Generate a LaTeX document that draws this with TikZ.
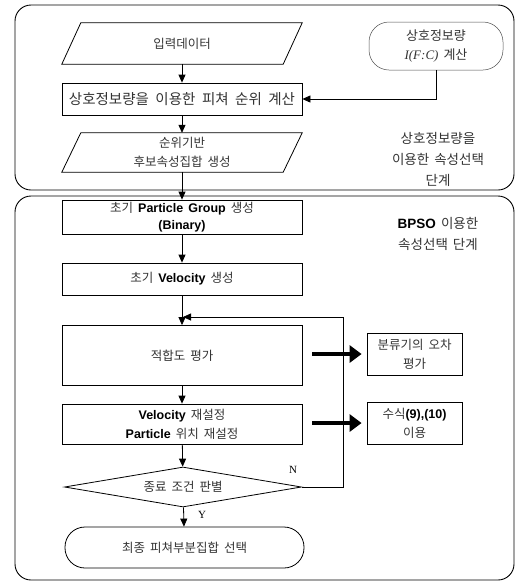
\documentclass[tikz,border=0pt]{standalone}
\usepackage{fontspec}
\setmainfont{Noto Sans CJK KR}
\newfontfamily\latf{Liberation Sans}
\newfontfamily\tmf{Liberation Serif}
\usetikzlibrary{arrows.meta,shapes.geometric,calc}
\newcommand{\bl}[1]{{\latf\bfseries\color{black}#1}}
\newcommand{\wsp}{\spaceskip=5pt plus 1pt\relax}
\newcommand{\wspwide}{\spaceskip=6.5pt plus 1pt\relax}
\begin{document}
\begin{tikzpicture}[x=1pt,y=-1pt,
  every node/.style={font=\fontsize{12.5}{18}\selectfont\wsp, text=black!80, align=center, inner sep=0pt},
  container/.style={draw, line width=0.9pt, rounded corners=16pt},
  procbox/.style={draw, line width=0.8pt, minimum width=240pt},
  sidebox/.style={draw, line width=0.8pt, minimum width=95pt, minimum height=42pt},
  termbox/.style={draw, line width=0.8pt, rounded corners=20pt},
  flow/.style={line width=0.8pt, -{Triangle[length=8pt,width=7pt]}},
  bigarrow/.style={line width=4pt, -{Triangle[length=12pt,width=17pt]}, shorten >=5pt},
  lbl/.style={font=\fontsize{11}{13}\selectfont\tmf, text=black}
]
\useasboundingbox (0,0) rectangle (518,582);
% containers
\node[container, minimum width=499pt, minimum height=185pt] (topc) at (264.5,97.5) {};
\node[container, minimum width=499pt, minimum height=384pt] (botc) at (264.5,388) {};

% upper stage
\node[minimum width=221pt, minimum height=41pt] (inp) at (182,43.5) {입력데이터};
\draw[line width=0.8pt] ($(inp.south west)+(-9.5,0)$) -- ($(inp.south east)+(-9.5,0)$) -- ($(inp.north east)+(9.5,0)$) -- ($(inp.north west)+(9.5,0)$) -- cycle;
\node[procbox, minimum height=32pt, font=\fontsize{14.5}{18}\selectfont\wspwide] (rank) at (182,99) {상호정보량을 이용한 피쳐 순위 계산};
\node[termbox, minimum width=134pt, minimum height=48pt, line width=0.5pt, draw=black!70, font=\fontsize{13}{19}\selectfont\wsp] (mi) at (436,46) {상호정보량\\{\tmf\itshape I(F:C)} 계산};
\node[minimum width=221pt, minimum height=39pt, font=\fontsize{12.5}{19}\selectfont\wsp] (cand) at (182,152.5) {순위기반\\후보속성집합 생성};
\draw[line width=0.8pt] ($(cand.south west)+(-9.5,0)$) -- ($(cand.south east)+(-9.5,0)$) -- ($(cand.north east)+(9.5,0)$) -- ($(cand.north west)+(9.5,0)$) -- cycle;
\node[font=\fontsize{13.5}{21}\selectfont\wsp] (stage1) at (438,159) {상호정보량을\\이용한 속성선택\\단계};

\draw[flow] (inp) -- (rank);
\draw[flow] (mi.south) |- (rank.east);
\draw[flow] (rank) -- (cand);

% lower stage
\node[procbox, minimum height=34pt, font=\fontsize{12.5}{17}\selectfont\wsp] (pg) at (182,217) {초기 \bl{Particle Group} 생성\\\bl{(Binary)}};
\node[font=\fontsize{13.5}{21}\selectfont\wsp] (stage2) at (438,234) {\bl{BPSO} 이용한\\속성선택 단계};
\node[procbox, minimum height=32pt] (vel) at (182,279) {초기 \bl{Velocity} 생성};
\node[procbox, minimum height=60pt] (fit) at (182,355.5) {적합도 평가};
\node[procbox, minimum height=40pt, font=\fontsize{12.5}{19}\selectfont\wsp] (upd) at (182,424) {\bl{Velocity} 재설정\\\bl{Particle} 위치 재설정};
\node[draw, line width=0.8pt, diamond, shape aspect=6, minimum width=237pt, minimum height=40pt] (dec) at (183,487) {종료 조건 판별};
\node[termbox, minimum width=239pt, minimum height=41pt] (fin) at (184.5,547.5) {최종 피쳐부분집합 선택};

\node[sidebox, font=\fontsize{12.5}{19}\selectfont\wsp] (err) at (414.5,354) {분류기의 오차\\평가};
\node[sidebox, font=\fontsize{12.5}{19}\selectfont\wsp] (eqn) at (414.5,423) {수식\bl{(9),(10)}\\이용};

\draw[flow] (cand) -- (pg);
\draw[flow] (pg) -- (vel);
\draw[flow] (vel) -- (fit);
\draw[flow] (fit) -- (upd);
\draw[flow] (upd) -- (dec);
\draw[flow] (dec) -- (fin) node[lbl, pos=0.4, right=14pt] (ylab) {Y};

\coordinate (fbend) at (183,317);
\coordinate (fbcorner) at (343,317);
\draw[flow] (dec.east) -| (fbcorner) -- (fbend);
\node[lbl] (nlab) at (293,470) {N};

\coordinate (a1) at (312,354);
\coordinate (a2) at (312,423);
\draw[bigarrow] (a1) -- (err.west);
\draw[bigarrow] (a2) -- (eqn.west);
\end{tikzpicture}
\end{document}
